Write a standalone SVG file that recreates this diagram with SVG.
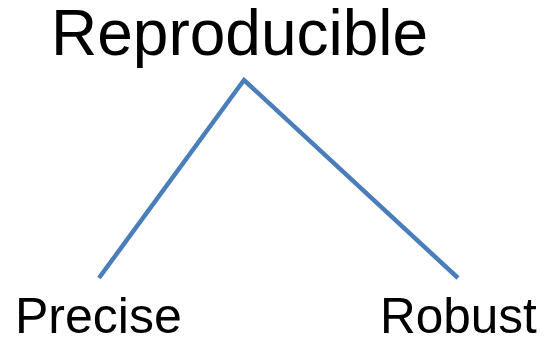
<svg xmlns="http://www.w3.org/2000/svg" width="545" height="340" viewBox="0 0 545 340">
<style>
text{font-family:"Liberation Sans",Arial,sans-serif;fill:#000}
.c{fill:none;stroke:#4A7EBB;stroke-width:4.5}
</style>
<rect width="545" height="340" fill="#fff"/>
<g id="connectors">
<polyline class="c" points="99,278 244,80 458,278"/>
</g>
<g id="reproducible"><text x="51" y="55" font-size="64">Reproducible</text></g>
<g id="precise"><text x="15" y="333" font-size="50">Precise</text></g>
<g id="robust"><text x="380" y="333" font-size="49.5">Robust</text></g>
</svg>
